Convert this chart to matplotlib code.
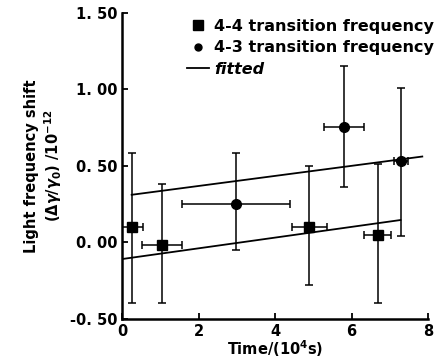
import matplotlib.pyplot as plt
from matplotlib.lines import Line2D

# 4-4 transition frequency (squares)
t44 = [0.25, 1.05, 4.9, 6.68]
shift44 = [0.10, -0.02, 0.10, 0.05]
yerr44_lo = [0.50, 0.38, 0.38, 0.45]
yerr44_hi = [0.48, 0.40, 0.40, 0.46]
xerr44 = [0.30, 0.52, 0.46, 0.36]

# 4-3 transition frequency (circles)
t43 = [2.98, 5.81, 7.3]
shift43 = [0.25, 0.75, 0.53]
yerr43_lo = [0.30, 0.39, 0.49]
yerr43_hi = [0.33, 0.40, 0.48]
xerr43 = [1.42, 0.52, 0.18]

# fitted lines (end points)
fit_upper_t = [0.25, 7.85]
fit_upper_y = [0.31, 0.56]
fit_lower_t = [0.0, 7.28]
fit_lower_y = [-0.11, 0.145]

xticks = [0, 2, 4, 6, 8]
yticks = [-0.5, 0.0, 0.5, 1.0, 1.5]
ytick_labels = ["-0. 50", "0. 00", "0. 50", "1. 00", "1. 50"]

plt.rcParams['font.family'] = 'DejaVu Sans'
plt.rcParams['font.weight'] = 'bold'

fig = plt.figure(figsize=(4.44, 3.63), dpi=100)
ax = fig.add_axes([0.275, 0.122, 0.689, 0.843])

kw = dict(color='black', ecolor='black', elinewidth=1.1, capsize=3, capthick=1.1, ls='none')
ax.errorbar(t44, shift44, yerr=[yerr44_lo, yerr44_hi], xerr=xerr44,
            marker='s', ms=6.5, **kw)
ax.errorbar(t43, shift43, yerr=[yerr43_lo, yerr43_hi], xerr=xerr43,
            marker='o', ms=7, **kw)
ax.plot(fit_upper_t, fit_upper_y, color='black', lw=1.3)
ax.plot(fit_lower_t, fit_lower_y, color='black', lw=1.3)

ax.set_xlim(0, 8)
ax.set_ylim(-0.5, 1.5)
ax.set_xticks(xticks)
ax.set_yticks(yticks)
ax.set_yticklabels(ytick_labels)
ax.tick_params(direction='in', length=4, width=1.3, labelsize=10.5)
for s in ['top', 'right']:
    ax.spines[s].set_visible(False)
for s in ['left', 'bottom']:
    ax.spines[s].set_linewidth(1.8)

ax.set_xlabel('Time/(10$^4$s)', fontsize=10.5, fontweight='bold', labelpad=0)
ax.set_ylabel('Light frequency shift\n($\\Delta\\gamma/\\gamma_0$) /10$^{-12}$',
              fontsize=10.5, fontweight='bold', labelpad=4)

handles = [
    Line2D([], [], color='black', marker='s', ms=6.5, ls='none'),
    Line2D([], [], color='black', marker='o', ms=5, ls='none'),
    Line2D([], [], color='black', lw=1.3),
]
labels = ['4-4 transition frequency', '4-3 transition frequency', 'fitted']
leg = fig.legend(handles, labels, loc='upper left', bbox_to_anchor=(0.421, 0.948),
                 frameon=False, fontsize=11.5, handlelength=1.4, handletextpad=0.3,
                 labelspacing=0.4, borderaxespad=0, borderpad=0)
leg.get_texts()[2].set_fontstyle('italic')

fig.savefig('out.png', dpi=100)
